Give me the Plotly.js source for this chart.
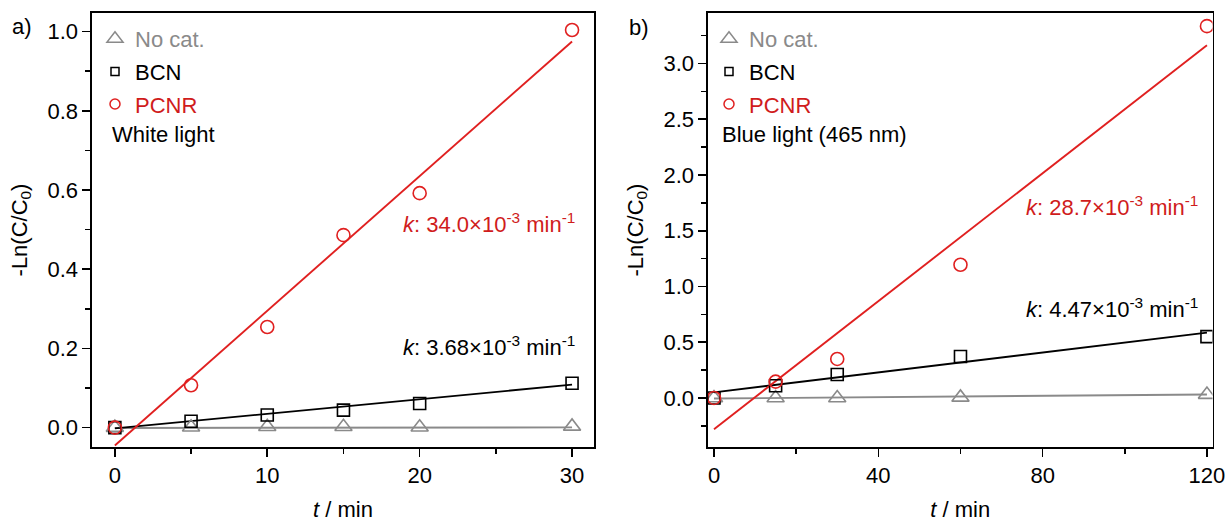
<!DOCTYPE html>
<html>
<head>
<meta charset="utf-8">
<script src="https://cdn.plot.ly/plotly-3.0.1.min.js"></script>
<style>
  html, body { margin: 0; padding: 0; background: #fff; }
  #chart { width: 1226px; height: 524px; }
</style>
</head>
<body>
<div id="chart"></div>
<script>
// ---------------- data ----------------
const seriesNames = ['No cat.', 'BCN', 'PCNR'];

// panel a) white light
const timeA = [0, 5, 10, 15, 20, 30];
const noCatA = [0.000, 0.001, 0.002, 0.002, 0.001, 0.003];
const bcnA   = [0.000, 0.016, 0.032, 0.044, 0.061, 0.112];
const pcnrA  = [0.000, 0.107, 0.254, 0.486, 0.592, 1.004];
const fitSlopeA     = [0.00005, 0.00368, 0.0340];   // No cat., BCN, PCNR
const fitInterceptA = [-0.001, -0.002, -0.045];
const fitRangeA = [0, 30];
const kLabelsA = ['34.0', '3.68'];                 // PCNR, BCN (×10^-3 min^-1)

// panel b) blue light (465 nm)
const timeB = [0, 15, 30, 60, 120];
const noCatB = [0.000, 0.000, 0.000, 0.005, 0.030];
const bcnB   = [0.000, 0.110, 0.210, 0.372, 0.550];
const pcnrB  = [0.000, 0.146, 0.350, 1.195, 3.335];
const fitSlopeB     = [0.00030, 0.00447, 0.0287];
const fitInterceptB = [-0.005, 0.050, -0.280];
const fitRangeB = [0, 120];
const kLabelsB = ['28.7', '4.47'];

const panelLabels = ['a)', 'b)'];
const lightLabels = ['White light', 'Blue light (465 nm)'];

// ---------------- styles ----------------
const GRAY = '#8a8a8a';
const BLACK = '#000000';
const RED = '#e02020';
const RED_TEXT = '#d01c1c';
const colors = [GRAY, BLACK, RED];
const symbols = ['triangle-up-open', 'square-open', 'circle-open'];
const markerSizes = [15, 12, 13];
const legendSizes = [14, 8, 10];
const legendColors = ['#8a8a8a', '#000000', RED_TEXT];

const W = 1226, H = 524;
const px = v => v / W;
const py = v => 1 - v / H;

function fitLine(range, slope, intercept) {
  return { x: range.slice(), y: range.map(t => intercept + slope * t) };
}

const traces = [];
function addPanel(xa, ya, legendId, time, seriesList, slopes, intercepts, range) {
  // fitted lines
  seriesList.forEach((s, i) => {
    const f = fitLine(range, slopes[i], intercepts[i]);
    traces.push({
      type: 'scatter', mode: 'lines', x: f.x, y: f.y, xaxis: xa, yaxis: ya,
      line: { color: colors[i], width: 1.9 }, showlegend: false, hoverinfo: 'skip'
    });
  });
  // data markers
  seriesList.forEach((s, i) => {
    traces.push({
      type: 'scatter', mode: 'markers', x: time, y: s, xaxis: xa, yaxis: ya,
      name: seriesNames[i], showlegend: false,
      marker: { symbol: symbols[i], size: markerSizes[i], color: colors[i], line: { width: 1.6, color: colors[i] } }
    });
  });
  // legend entries
  seriesList.forEach((s, i) => {
    traces.push({
      type: 'scatter', mode: 'markers', x: [null], y: [null], xaxis: xa, yaxis: ya,
      name: '<span style="color:' + legendColors[i] + '">' + seriesNames[i] + '</span>',
      legend: legendId, legendgroup: legendId + i, showlegend: true,
      marker: { symbol: symbols[i], size: legendSizes[i], color: colors[i], line: { width: 1.5, color: colors[i] } }
    });
  });
}
addPanel('x', 'y', 'legend', timeA, [noCatA, bcnA, pcnrA], fitSlopeA, fitInterceptA, fitRangeA);
addPanel('x2', 'y2', 'legend2', timeB, [noCatB, bcnB, pcnrB], fitSlopeB, fitInterceptB, fitRangeB);

const FONT = 'Liberation Sans, Arial, Helvetica, sans-serif';
const FS = 22;

function axisBase() {
  return {
    showline: true, mirror: true, linecolor: '#000', linewidth: 1.6,
    ticks: 'outside', ticklen: 8, tickwidth: 1.6, tickcolor: '#000',
    showgrid: false, zeroline: false,
    tickfont: { family: FONT, size: FS, color: '#000' }
  };
}
const yDomain = [1 - 447 / H, 1 - 13 / H];
const xTitle = { text: '<i>t</i> / min', font: { family: FONT, size: FS, color: '#000' }, standoff: 14 };
const yTitle = { text: '-Ln(C/C<sub>0</sub>)', font: { family: FONT, size: FS, color: '#000' }, standoff: 14 };

const layout = {
  width: W, height: H,
  margin: { l: 0, r: 0, t: 0, b: 0 },
  paper_bgcolor: '#fff', plot_bgcolor: '#fff',
  font: { family: FONT, size: FS, color: '#000' },
  xaxis: Object.assign(axisBase(), {
    domain: [px(92), px(594)], range: [-1.5, 31.44], anchor: 'y',
    tick0: 0, dtick: 10,
    minor: { dtick: 5, tick0: 0, ticks: 'outside', ticklen: 5, tickwidth: 1.6, tickcolor: '#000' },
    title: xTitle
  }),
  yaxis: Object.assign(axisBase(), {
    domain: yDomain, range: [-0.049, 1.047], anchor: 'x',
    tick0: 0, dtick: 0.2, tickformat: '.1f',
    minor: { dtick: 0.1, tick0: 0, ticks: 'outside', ticklen: 5, tickwidth: 1.6, tickcolor: '#000' },
    title: yTitle
  }),
  xaxis2: Object.assign(axisBase(), {
    domain: [px(708), px(1212.5)], range: [-1.46, 121.35], anchor: 'y2',
    tick0: 0, dtick: 40,
    minor: { dtick: 20, tick0: 0, ticks: 'outside', ticklen: 5, tickwidth: 1.6, tickcolor: '#000' },
    title: xTitle
  }),
  yaxis2: Object.assign(axisBase(), {
    domain: yDomain, range: [-0.44, 3.453], anchor: 'x2',
    tick0: 0, dtick: 0.5, tickformat: '.1f',
    minor: { dtick: 0.25, tick0: 0, ticks: 'outside', ticklen: 5, tickwidth: 1.6, tickcolor: '#000' },
    title: yTitle
  }),
  legend: {
    x: px(95), y: py(18), xanchor: 'left', yanchor: 'top',
    bgcolor: 'rgba(0,0,0,0)', borderwidth: 0,
    font: { family: FONT, size: FS, color: '#000' },
    traceorder: 'grouped', tracegroupgap: 1, itemclick: false, itemdoubleclick: false
  },
  legend2: {
    x: px(709), y: py(18), xanchor: 'left', yanchor: 'top',
    bgcolor: 'rgba(0,0,0,0)', borderwidth: 0,
    font: { family: FONT, size: FS, color: '#000' },
    traceorder: 'grouped', tracegroupgap: 1, itemclick: false, itemdoubleclick: false
  },
  showlegend: true,
  annotations: [
    { text: panelLabels[0], xref: 'paper', yref: 'paper', x: px(10), y: py(26), xanchor: 'left', yanchor: 'middle', showarrow: false, font: { family: FONT, size: FS, color: '#000' } },
    { text: panelLabels[1], xref: 'paper', yref: 'paper', x: px(627), y: py(27), xanchor: 'left', yanchor: 'middle', showarrow: false, font: { family: FONT, size: FS, color: '#000' } },
    { text: lightLabels[0], xref: 'paper', yref: 'paper', x: px(110), y: py(134), xanchor: 'left', yanchor: 'middle', showarrow: false, font: { family: FONT, size: FS, color: '#000' } },
    { text: lightLabels[1], xref: 'paper', yref: 'paper', x: px(720), y: py(134), xanchor: 'left', yanchor: 'middle', showarrow: false, font: { family: FONT, size: FS, color: '#000' } },
    { text: '<i>k</i>: ' + kLabelsA[0] + '×10<sup>-3</sup> min<sup>-1</sup>', xref: 'paper', yref: 'paper', x: px(577), y: py(223), xanchor: 'right', yanchor: 'middle', showarrow: false, font: { family: FONT, size: FS, color: RED_TEXT } },
    { text: '<i>k</i>: ' + kLabelsA[1] + '×10<sup>-3</sup> min<sup>-1</sup>', xref: 'paper', yref: 'paper', x: px(577), y: py(346), xanchor: 'right', yanchor: 'middle', showarrow: false, font: { family: FONT, size: FS, color: '#000' } },
    { text: '<i>k</i>: ' + kLabelsB[0] + '×10<sup>-3</sup> min<sup>-1</sup>', xref: 'paper', yref: 'paper', x: px(1200), y: py(206), xanchor: 'right', yanchor: 'middle', showarrow: false, font: { family: FONT, size: FS, color: RED_TEXT } },
    { text: '<i>k</i>: ' + kLabelsB[1] + '×10<sup>-3</sup> min<sup>-1</sup>', xref: 'paper', yref: 'paper', x: px(1200), y: py(308), xanchor: 'right', yanchor: 'middle', showarrow: false, font: { family: FONT, size: FS, color: '#000' } }
  ]
};

Plotly.newPlot('chart', traces, layout, { staticPlot: true, displayModeBar: false });
</script>
</body>
</html>
